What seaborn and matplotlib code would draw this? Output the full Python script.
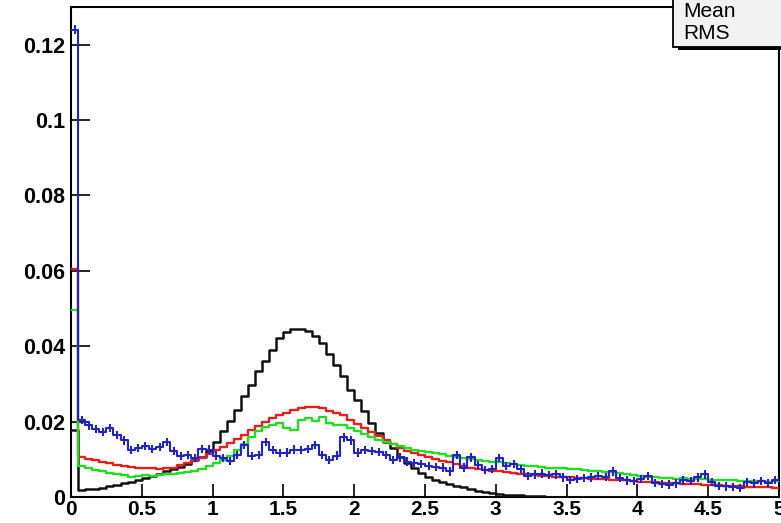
import numpy as np
import pandas as pd
import seaborn as sns
import matplotlib
matplotlib.use("Agg")
import matplotlib.pyplot as plt
from matplotlib import ticker
from matplotlib.patches import Rectangle

# 100 bins of width 0.05 between 0 and 5
x_lo, x_hi, n_bins = 0.0, 5.0, 100

black = [
    0.0178, 0.0018, 0.0020, 0.0022, 0.0025, 0.0028, 0.0032, 0.0036, 0.0040, 0.0045,
    0.0050, 0.0056, 0.0062, 0.0068, 0.0074, 0.0080, 0.0088, 0.0097, 0.0107, 0.0122,
    0.0147, 0.0174, 0.0201, 0.0231, 0.0267, 0.0298, 0.0333, 0.0360, 0.0391, 0.0422,
    0.0438, 0.0446, 0.0446, 0.0440, 0.0426, 0.0408, 0.0380, 0.0351, 0.0320, 0.0284,
    0.0258, 0.0227, 0.0196, 0.0169, 0.0147, 0.0129, 0.0107, 0.0090, 0.0076, 0.0063,
    0.0054, 0.0046, 0.0040, 0.0035, 0.0030, 0.0026, 0.0021, 0.0017, 0.0013, 0.0010,
    0.0008, 0.0006, 0.0005, 0.0004, 0.0003, 0.0002, 0.0002, 0.0001, 0.0001, 0.0001,
    0.0001, 0.0001, 0.0000, 0.0000, 0.0000, 0.0000, 0.0000, 0.0000, 0.0000, 0.0000,
    0.0000, 0.0000, 0.0000, 0.0000, 0.0000, 0.0000, 0.0000, 0.0000, 0.0000, 0.0000,
    0.0000, 0.0000, 0.0000, 0.0000, 0.0000, 0.0000, 0.0000, 0.0000, 0.0000, 0.0000,
]

red = [
    0.0605, 0.0107, 0.0102, 0.0097, 0.0094, 0.0090, 0.0085, 0.0081, 0.0079, 0.0077,
    0.0076, 0.0076, 0.0075, 0.0076, 0.0078, 0.0085, 0.0090, 0.0096, 0.0103, 0.0113,
    0.0125, 0.0132, 0.0142, 0.0153, 0.0165, 0.0177, 0.0188, 0.0198, 0.0210, 0.0218,
    0.0224, 0.0230, 0.0235, 0.0238, 0.0238, 0.0236, 0.0228, 0.0222, 0.0218, 0.0205,
    0.0195, 0.0184, 0.0172, 0.0163, 0.0152, 0.0140, 0.0130, 0.0122, 0.0116, 0.0111,
    0.0106, 0.0100, 0.0096, 0.0092, 0.0088, 0.0082, 0.0078, 0.0074, 0.0072, 0.0070,
    0.0068, 0.0067, 0.0064, 0.0062, 0.0060, 0.0058, 0.0057, 0.0055, 0.0054, 0.0054,
    0.0052, 0.0051, 0.0051, 0.0049, 0.0048, 0.0048, 0.0046, 0.0044, 0.0044, 0.0042,
    0.0041, 0.0040, 0.0040, 0.0038, 0.0037, 0.0037, 0.0035, 0.0034, 0.0034, 0.0032,
    0.0031, 0.0031, 0.0029, 0.0029, 0.0028, 0.0027, 0.0027, 0.0026, 0.0026, 0.0025,
]

green = [
    0.0497, 0.0081, 0.0076, 0.0072, 0.0068, 0.0064, 0.0061, 0.0058, 0.0054, 0.0056,
    0.0058, 0.0056, 0.0058, 0.0060, 0.0061, 0.0064, 0.0067, 0.0070, 0.0075, 0.0082,
    0.0090, 0.0098, 0.0110, 0.0124, 0.0140, 0.0160, 0.0176, 0.0186, 0.0190, 0.0196,
    0.0184, 0.0178, 0.0204, 0.0210, 0.0202, 0.0212, 0.0196, 0.0192, 0.0190, 0.0182,
    0.0174, 0.0166, 0.0158, 0.0152, 0.0146, 0.0140, 0.0134, 0.0130, 0.0126, 0.0122,
    0.0120, 0.0118, 0.0115, 0.0110, 0.0107, 0.0104, 0.0102, 0.0099, 0.0096, 0.0094,
    0.0092, 0.0090, 0.0088, 0.0085, 0.0083, 0.0081, 0.0079, 0.0077, 0.0077, 0.0076,
    0.0075, 0.0074, 0.0071, 0.0069, 0.0068, 0.0067, 0.0066, 0.0063, 0.0061, 0.0059,
    0.0056, 0.0054, 0.0052, 0.0050, 0.0050, 0.0049, 0.0050, 0.0049, 0.0048, 0.0048,
    0.0046, 0.0045, 0.0045, 0.0044, 0.0043, 0.0043, 0.0042, 0.0042, 0.0041, 0.0042,
]

blue = [
    0.1240, 0.0205, 0.0190, 0.0180, 0.0172, 0.0183, 0.0165, 0.0150, 0.0125, 0.0130,
    0.0135, 0.0128, 0.0132, 0.0145, 0.0122, 0.0108, 0.0112, 0.0104, 0.0128, 0.0126,
    0.0110, 0.0104, 0.0095, 0.0112, 0.0138, 0.0108, 0.0112, 0.0145, 0.0125, 0.0116,
    0.0118, 0.0126, 0.0124, 0.0128, 0.0138, 0.0112, 0.0098, 0.0110, 0.0158, 0.0150,
    0.0118, 0.0125, 0.0122, 0.0120, 0.0112, 0.0098, 0.0105, 0.0094, 0.0090, 0.0088,
    0.0082, 0.0080, 0.0078, 0.0068, 0.0112, 0.0078, 0.0105, 0.0085, 0.0072, 0.0074,
    0.0103, 0.0082, 0.0088, 0.0075, 0.0056, 0.0060, 0.0062, 0.0058, 0.0060, 0.0052,
    0.0046, 0.0048, 0.0050, 0.0052, 0.0055, 0.0054, 0.0068, 0.0050, 0.0044, 0.0042,
    0.0048, 0.0055, 0.0038, 0.0034, 0.0033, 0.0036, 0.0044, 0.0042, 0.0052, 0.0060,
    0.0040, 0.0030, 0.0028, 0.0026, 0.0024, 0.0040, 0.0036, 0.0042, 0.0038, 0.0045,
]
blue_err = 0.0011

x_ticks = [0, 0.5, 1, 1.5, 2, 2.5, 3, 3.5, 4, 4.5, 5]
y_ticks = [0, 0.02, 0.04, 0.06, 0.08, 0.1, 0.12]
stat_labels = ["Mean", "RMS"]

edges = np.linspace(x_lo, x_hi, n_bins + 1)
centers = 0.5 * (edges[:-1] + edges[1:])
bin_w = (x_hi - x_lo) / n_bins

df = pd.DataFrame({"x": centers, "black": black, "red": red,
                   "green": green, "blue": blue})

sns.set_theme(style="white")
plt.rcParams["font.family"] = ["Liberation Sans", "DejaVu Sans"]

W, H = 781, 523
fig = plt.figure(figsize=(W / 100, H / 100), dpi=100)
fig.patch.set_facecolor("white")
ax = fig.add_axes([71 / W, 26 / H, 708 / W, 490 / H])
ax.set_facecolor("white")

series = [("black", "#111111", 1.8), ("red", "#e3201c", 1.7),
          ("green", "#22dd22", 1.7), ("blue", "#2222c8", 1.5)]
for col, colour, lw in series:
    sns.histplot(data=df, x="x", weights=col, binwidth=bin_w,
                 binrange=(x_lo, x_hi), element="step", fill=False,
                 color=colour, linewidth=lw, ax=ax, zorder=3)

ax.errorbar(df["x"], df["blue"], yerr=blue_err, fmt="none",
            ecolor="#2222c8", elinewidth=1.5, capsize=0, zorder=4)

ax.set_xlim(x_lo, x_hi)
ax.set_ylim(0, 0.13)
ax.set_xlabel("")
ax.set_ylabel("")

ax.set_xticks(x_ticks)
ax.set_yticks(y_ticks)
ax.xaxis.set_minor_locator(ticker.MultipleLocator(0.1))
ax.yaxis.set_minor_locator(ticker.MultipleLocator(0.005))
fmt = ticker.FuncFormatter(lambda v, p: f"{v:g}")
ax.xaxis.set_major_formatter(fmt)
ax.yaxis.set_major_formatter(fmt)

ax.tick_params(axis="both", which="both", direction="in", color="black",
               width=1.2, labelcolor="black")
ax.tick_params(axis="y", which="major", length=14, pad=4, labelsize=15.5)
ax.tick_params(axis="y", which="minor", length=7.5)
ax.tick_params(axis="x", which="major", length=9.5, pad=2.5, labelsize=15)
ax.tick_params(axis="x", which="minor", length=5)
ax.tick_params(top=False, right=False, left=True, bottom=True)
for lab in ax.get_xticklabels() + ax.get_yticklabels():
    lab.set_fontweight("bold")

for side in ["left", "right", "top", "bottom"]:
    ax.spines[side].set_visible(True)
    ax.spines[side].set_color("black")
    ax.spines[side].set_linewidth(1.5)

# statistics box in the top right corner, partly outside the canvas
shadow = Rectangle((678 / W, (H - 50) / H), 120 / W, 60 / H,
                   transform=fig.transFigure, facecolor="black",
                   edgecolor="none", zorder=10)
box = Rectangle((673 / W, (H - 47) / H), 120 / W, 60 / H,
                transform=fig.transFigure, facecolor="#f2f2f2",
                edgecolor="black", linewidth=1.3, zorder=11)
fig.patches.extend([shadow, box])
fig.text(683 / W, (H - 17) / H, stat_labels[0], fontsize=15,
         color="black", zorder=12)
fig.text(683 / W, (H - 39) / H, stat_labels[1], fontsize=15,
         color="black", zorder=12)

fig.savefig("out.png", dpi=100, facecolor="white")
